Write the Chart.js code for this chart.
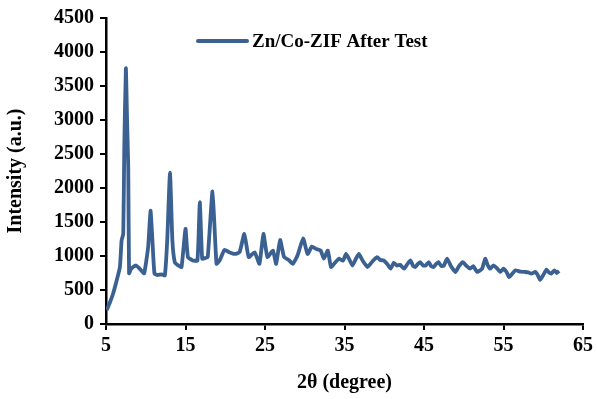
<!DOCTYPE html>
<html>
<head>
<meta charset="utf-8">
<script src="https://cdn.jsdelivr.net/npm/chart.js@4/dist/chart.umd.min.js"></script>
<style>
  html, body { margin: 0; padding: 0; background: #fff; }
  #wrap { width: 597px; height: 399px; }
</style>
</head>
<body>
<div id="wrap"><canvas id="xrd" width="597" height="399"></canvas></div>
<script>
// 2-theta positions (degree) and intensities
var twoTheta = [
  5.1, 5.5, 5.9, 6.3, 6.75, 6.96, 7.17, 7.3, 7.5, 7.65, 7.8, 7.9, 8.1, 8.4, 8.8, 9.1, 9.4, 9.8,
  10.3, 10.6, 10.84, 11.1, 11.5, 12.0, 12.4, 12.7, 13.05, 13.35, 13.65, 14.1, 14.5, 15.0, 15.3,
  15.9, 16.5, 16.8, 17.1, 17.5, 17.8, 18.4, 18.9, 19.3, 19.9, 20.5, 21.2, 21.8, 22.4, 22.95,
  23.7, 24.3, 24.8, 25.3, 26.0, 26.4, 26.9, 27.4, 28.0, 28.5, 29.1, 29.8, 30.35, 30.9, 31.4,
  32.0, 32.4, 32.9, 33.3, 33.8, 34.3, 34.8, 35.2, 35.6, 36.0, 36.4, 36.8, 37.3, 37.9, 38.5,
  39.1, 39.5, 39.9, 40.4, 40.8, 41.2, 41.6, 42.0, 42.5, 42.9, 43.3, 43.6, 43.9, 44.2, 44.5,
  44.9, 45.2, 45.6, 45.9, 46.2, 46.5, 46.8, 47.2, 47.5, 47.9, 48.4, 48.95, 49.4, 49.9, 50.3,
  50.8, 51.2, 51.7, 52.3, 52.7, 53.0, 53.3, 53.7, 54.1, 54.6, 55.0, 55.4, 55.7, 56.1, 56.5,
  57.1, 57.7, 58.1, 58.5, 59.0, 59.3, 59.6, 60.0, 60.4, 60.7, 61.0, 61.4, 61.7, 62.0
];
var intensity = [
  205, 320, 449, 620, 838, 1228, 1325, 2600, 3760, 3000, 2300, 745, 800, 838, 860, 830, 790, 745,
  1130, 1665, 1228, 740, 720, 730, 715, 1230, 2225, 1230, 910, 860, 838, 1400, 985,
  935, 935, 1790, 960, 970, 985, 1950, 885, 935, 1090, 1055, 1030, 1055, 1325, 985,
  1055, 885, 1325, 985, 1080, 885, 1235, 985, 940, 885, 1010, 1260, 1030, 1140, 1105,
  1080, 960, 1080, 838, 900, 960, 930, 1030, 950, 860, 950, 1030, 930, 838, 920,
  985, 940, 935, 880, 813, 900, 860, 870, 813, 880, 935, 860, 838, 880, 910,
  860, 860, 910, 850, 838, 880, 910, 850, 860, 960, 850, 765, 850, 910, 860,
  813, 850, 765, 813, 960, 870, 813, 860, 830, 765, 813, 760, 690, 740, 790,
  770, 765, 760, 740, 765, 720, 650, 720, 800, 760, 740, 790, 750, 780
];
var xTicks = [5, 15, 25, 35, 45, 55, 65];
var seriesName = 'Zn/Co-ZIF After Test';

var lineColor = '#3A6192';
var serif = "'Liberation Serif', 'Times New Roman', serif";

var points = twoTheta.map(function (t, i) { return { x: t, y: intensity[i] }; });

// legend drawn by hand so it can sit inside the plot, like the original
var legendPlugin = {
  id: 'insideLegend',
  afterDraw: function (chart) {
    var ctx = chart.ctx;
    ctx.save();
    ctx.strokeStyle = lineColor;
    ctx.lineWidth = 4;
    ctx.lineCap = 'round';
    ctx.beginPath();
    ctx.moveTo(198, 41);
    ctx.lineTo(247, 41);
    ctx.stroke();
    ctx.fillStyle = '#000';
    ctx.font = 'bold 19px ' + serif;
    ctx.textBaseline = 'middle';
    ctx.fillText(seriesName, 252, 42);
    ctx.restore();
  }
};

var ctx = document.getElementById('xrd').getContext('2d');
new Chart(ctx, {
  type: 'line',
  data: {
    datasets: [{
      label: seriesName,
      data: points,
      borderColor: lineColor,
      borderWidth: 3.8,
      pointRadius: 0,
      tension: 0.15,
      fill: false
    }]
  },
  options: {
    responsive: false,
    animation: false,
    layout: { padding: { top: 8, right: 12, left: 0, bottom: 0 } },
    plugins: { legend: { display: false }, tooltip: { enabled: false } },
    scales: {
      x: {
        type: 'linear',
        min: 5,
        max: 65,
        afterBuildTicks: function (axis) {
          axis.ticks = xTicks.map(function (v) { return { value: v }; });
        },
        afterFit: function (axis) { axis.height = 75; },
        border: { color: '#000', width: 2.5 },
        grid: { drawOnChartArea: false, drawTicks: true, tickLength: 6, color: '#000', lineWidth: 2 },
        ticks: { color: '#000', font: { family: serif, size: 20, weight: 'bold' }, padding: 4, maxRotation: 0,
          callback: function (v) { return String(v); } },
        title: { display: true, text: '2θ (degree)', color: '#000', font: { family: serif, size: 20, weight: 'bold' }, padding: { top: 4 } }
      },
      y: {
        min: 0,
        max: 4500,
        afterFit: function (axis) { axis.width = 106; },
        border: { color: '#000', width: 2.5 },
        grid: { drawOnChartArea: false, drawTicks: true, tickLength: 6, color: '#000', lineWidth: 2 },
        ticks: { stepSize: 500, color: '#000', font: { family: serif, size: 20, weight: 'bold' }, padding: 6,
          callback: function (v) { return String(v); } },
        title: { display: true, text: 'Intensity (a.u.)', color: '#000', font: { family: serif, size: 20, weight: 'bold' }, padding: { bottom: 4 } }
      }
    }
  },
  plugins: [legendPlugin]
});
</script>
</body>
</html>
